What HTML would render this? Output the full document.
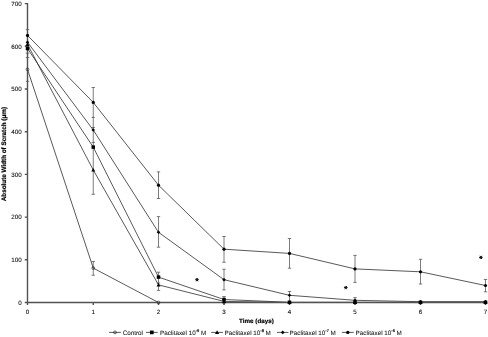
<!DOCTYPE html>
<html><head><meta charset="utf-8"><style>
html,body{margin:0;padding:0;background:#fff;width:488px;height:337px;overflow:hidden}
svg{display:block;will-change:transform}
text{text-rendering:geometricPrecision}
</style></head><body>
<svg width="488" height="337" viewBox="0 0 488 337">
<path d="M27.50 29.60V57.50M27.50 57.50V81.30M93.25 87.50V194.30M93.25 261.50V275.20M158.50 171.90V198.50M158.50 216.60V247.20M158.50 272.20V290.40M224.00 236.50V262.30M224.00 269.20V289.90M224.00 296.50V302.00M289.50 238.50V268.20M289.50 291.50V302.00M355.00 255.40V282.40M355.00 297.60V302.00M420.50 259.30V284.00M485.50 279.50V291.80M25.80 29.60h3.4M25.80 46.10h3.4M25.80 53.20h3.4M25.80 57.50h3.4M25.80 81.30h3.4M91.55 87.50h3.4M91.55 117.40h3.4M91.55 127.50h3.4M91.55 142.40h3.4M91.55 194.30h3.4M91.55 261.50h3.4M91.55 275.20h3.4M156.80 171.90h3.4M156.80 198.50h3.4M156.80 216.60h3.4M156.80 247.20h3.4M156.80 272.20h3.4M156.80 283.00h3.4M156.80 290.40h3.4M222.30 236.50h3.4M222.30 262.30h3.4M222.30 269.20h3.4M222.30 289.90h3.4M222.30 296.50h3.4M287.80 238.50h3.4M287.80 268.20h3.4M287.80 291.50h3.4M353.30 255.40h3.4M353.30 282.40h3.4M353.30 297.60h3.4M418.80 259.30h3.4M418.80 284.00h3.4M483.80 279.50h3.4M483.80 291.80h3.4" stroke="#4a4a4a" stroke-width="0.72" fill="none"/>
<polyline points="27.50,69.40 93.25,268.10 158.50,302.50 224.00,302.50 289.50,302.50 355.00,302.50 420.50,302.50 485.50,302.50" stroke="#222" stroke-width="0.75" fill="none" stroke-linejoin="round"/>
<polyline points="27.50,48.50 93.25,147.10 158.50,277.10 224.00,299.50 289.50,302.30 355.00,302.30 420.50,302.30 485.50,302.30" stroke="#222" stroke-width="0.75" fill="none" stroke-linejoin="round"/>
<polyline points="27.50,44.30 93.25,170.00 158.50,284.90 224.00,301.40 289.50,302.50 355.00,302.50 420.50,302.50 485.50,302.50" stroke="#222" stroke-width="0.75" fill="none" stroke-linejoin="round"/>
<polyline points="27.50,42.20 93.25,130.00 158.50,232.30 224.00,279.70 289.50,295.30 355.00,300.30 420.50,301.70 485.50,301.70" stroke="#222" stroke-width="0.75" fill="none" stroke-linejoin="round"/>
<polyline points="27.50,35.40 93.25,102.40 158.50,185.20 224.00,249.20 289.50,253.40 355.00,268.90 420.50,271.80 485.50,285.50" stroke="#222" stroke-width="0.75" fill="none" stroke-linejoin="round"/>
<path d="M27.50 3.10V302.50H486.20M24.80 302.50H27.5M24.80 259.80H27.5M24.80 217.10H27.5M24.80 174.40H27.5M24.80 131.70H27.5M24.80 89.00H27.5M24.80 46.30H27.5M24.80 3.60H27.5M27.50 302.5v2.5M93.25 302.5v2.5M158.50 302.5v2.5M224.00 302.5v2.5M289.50 302.5v2.5M355.00 302.5v2.5M420.50 302.5v2.5M485.50 302.5v2.5" stroke="#525252" stroke-width="1.4" fill="none"/>
<circle cx="27.50" cy="69.40" r="1.40" fill="none" stroke="#222" stroke-width="0.65"/>
<circle cx="93.25" cy="268.10" r="1.40" fill="none" stroke="#222" stroke-width="0.65"/>
<circle cx="158.50" cy="302.50" r="1.40" fill="none" stroke="#222" stroke-width="0.65"/>
<circle cx="224.00" cy="302.50" r="1.40" fill="none" stroke="#222" stroke-width="0.65"/>
<circle cx="289.50" cy="302.50" r="1.40" fill="none" stroke="#222" stroke-width="0.65"/>
<circle cx="355.00" cy="302.50" r="1.40" fill="none" stroke="#222" stroke-width="0.65"/>
<circle cx="420.50" cy="302.50" r="1.40" fill="none" stroke="#222" stroke-width="0.65"/>
<circle cx="485.50" cy="302.50" r="1.40" fill="none" stroke="#222" stroke-width="0.65"/>
<rect x="25.75" y="46.75" width="3.50" height="3.50" fill="#000"/>
<rect x="91.50" y="145.35" width="3.50" height="3.50" fill="#000"/>
<rect x="156.75" y="275.35" width="3.50" height="3.50" fill="#000"/>
<rect x="222.25" y="297.75" width="3.50" height="3.50" fill="#000"/>
<rect x="287.75" y="300.55" width="3.50" height="3.50" fill="#000"/>
<rect x="353.25" y="300.55" width="3.50" height="3.50" fill="#000"/>
<rect x="418.75" y="300.55" width="3.50" height="3.50" fill="#000"/>
<rect x="483.75" y="300.55" width="3.50" height="3.50" fill="#000"/>
<path d="M27.50 42.30L29.50 45.90H25.50Z" fill="#000"/>
<path d="M93.25 168.00L95.25 171.60H91.25Z" fill="#000"/>
<path d="M158.50 282.90L160.50 286.50H156.50Z" fill="#000"/>
<path d="M224.00 299.40L226.00 303.00H222.00Z" fill="#000"/>
<path d="M289.50 300.50L291.50 304.10H287.50Z" fill="#000"/>
<path d="M355.00 300.50L357.00 304.10H353.00Z" fill="#000"/>
<path d="M420.50 300.50L422.50 304.10H418.50Z" fill="#000"/>
<path d="M485.50 300.50L487.50 304.10H483.50Z" fill="#000"/>
<path d="M27.50 40.40L29.30 42.20L27.50 44.00L25.70 42.20Z" fill="#000"/>
<path d="M93.25 128.20L95.05 130.00L93.25 131.80L91.45 130.00Z" fill="#000"/>
<path d="M158.50 230.50L160.30 232.30L158.50 234.10L156.70 232.30Z" fill="#000"/>
<path d="M224.00 277.90L225.80 279.70L224.00 281.50L222.20 279.70Z" fill="#000"/>
<path d="M289.50 293.50L291.30 295.30L289.50 297.10L287.70 295.30Z" fill="#000"/>
<path d="M355.00 298.50L356.80 300.30L355.00 302.10L353.20 300.30Z" fill="#000"/>
<path d="M420.50 299.90L422.30 301.70L420.50 303.50L418.70 301.70Z" fill="#000"/>
<path d="M485.50 299.90L487.30 301.70L485.50 303.50L483.70 301.70Z" fill="#000"/>
<circle cx="27.50" cy="35.40" r="1.60" fill="#000"/>
<circle cx="93.25" cy="102.40" r="1.60" fill="#000"/>
<circle cx="158.50" cy="185.20" r="1.60" fill="#000"/>
<circle cx="224.00" cy="249.20" r="1.60" fill="#000"/>
<circle cx="289.50" cy="253.40" r="1.60" fill="#000"/>
<circle cx="355.00" cy="268.90" r="1.60" fill="#000"/>
<circle cx="420.50" cy="271.80" r="1.60" fill="#000"/>
<circle cx="485.50" cy="285.50" r="1.60" fill="#000"/>
<g font-family="Liberation Sans, sans-serif" font-size="6.4" fill="#111" stroke="#111" stroke-width="0.1"><text x="21.8" y="304.85" text-anchor="end" font-size="6.25">0</text><text x="21.8" y="262.15" text-anchor="end" font-size="6.25">100</text><text x="21.8" y="219.45" text-anchor="end" font-size="6.25">200</text><text x="21.8" y="176.75" text-anchor="end" font-size="6.25">300</text><text x="21.8" y="134.05" text-anchor="end" font-size="6.25">400</text><text x="21.8" y="91.35" text-anchor="end" font-size="6.25">500</text><text x="21.8" y="48.65" text-anchor="end" font-size="6.25">600</text><text x="21.8" y="5.95" text-anchor="end" font-size="6.25">700</text><text x="27.50" y="314.2" text-anchor="middle" font-size="6.2">0</text><text x="93.25" y="314.2" text-anchor="middle" font-size="6.2">1</text><text x="158.50" y="314.2" text-anchor="middle" font-size="6.2">2</text><text x="224.00" y="314.2" text-anchor="middle" font-size="6.2">3</text><text x="289.50" y="314.2" text-anchor="middle" font-size="6.2">4</text><text x="355.00" y="314.2" text-anchor="middle" font-size="6.2">5</text><text x="420.50" y="314.2" text-anchor="middle" font-size="6.2">6</text><text x="485.50" y="314.2" text-anchor="middle" font-size="6.2">7</text></g>
<path d="M195.55 279.70L198.45 279.70M196.28 278.44L197.72 280.96M197.72 278.44L196.28 280.96M344.35 287.60L347.25 287.60M345.07 286.34L346.53 288.86M346.53 286.34L345.07 288.86M479.45 257.40L482.35 257.40M480.17 256.14L481.62 258.66M481.62 256.14L480.17 258.66" stroke="#111" stroke-width="1.0" stroke-linecap="round"/>
<text x="239.0" y="322.6" textLength="34.8" lengthAdjust="spacingAndGlyphs" font-family="Liberation Sans, sans-serif" font-weight="bold" font-size="6.2" fill="#000" stroke="#000" stroke-width="0.18">Time (days)</text>
<text transform="translate(6.3 201.2) rotate(-90)" textLength="94.2" lengthAdjust="spacingAndGlyphs" font-family="Liberation Sans, sans-serif" font-weight="bold" font-size="6.5" fill="#000" stroke="#000" stroke-width="0.22">Absolute Width of Scratch (μm)</text>
<path d="M109.1 332.4H120.9" stroke="#222" stroke-width="0.75"/>
<circle cx="115.00" cy="332.40" r="1.47" fill="none" stroke="#222" stroke-width="0.65"/>
<text x="122.7" y="334.9" font-family="Liberation Sans, sans-serif" font-size="6.3" fill="#111" stroke="#111" stroke-width="0.05">Control</text>
<path d="M145.9 332.4H157.7" stroke="#222" stroke-width="0.75"/>
<rect x="149.96" y="330.56" width="3.68" height="3.68" fill="#000"/>
<text x="160.0" y="334.9" font-family="Liberation Sans, sans-serif" font-size="6.3" fill="#111" stroke="#111" stroke-width="0.05">Paclitaxel 10<tspan dy="-3.1" font-size="4.0" stroke-width="0.2">-9</tspan><tspan dy="3.1"> M</tspan></text>
<path d="M211.2 332.4H223.0" stroke="#222" stroke-width="0.75"/>
<path d="M217.10 330.30L219.20 334.08H215.00Z" fill="#000"/>
<text x="224.6" y="334.9" font-family="Liberation Sans, sans-serif" font-size="6.3" fill="#111" stroke="#111" stroke-width="0.05">Paclitaxel 10<tspan dy="-3.1" font-size="4.0" stroke-width="0.2">-8</tspan><tspan dy="3.1"> M</tspan></text>
<path d="M276.9 332.4H288.5" stroke="#222" stroke-width="0.75"/>
<path d="M282.70 330.51L284.59 332.40L282.70 334.29L280.81 332.40Z" fill="#000"/>
<text x="289.6" y="334.9" font-family="Liberation Sans, sans-serif" font-size="6.3" fill="#111" stroke="#111" stroke-width="0.05">Paclitaxel 10<tspan dy="-3.1" font-size="4.0" stroke-width="0.2">-7</tspan><tspan dy="3.1"> M</tspan></text>
<path d="M341.9 332.4H353.7" stroke="#222" stroke-width="0.75"/>
<circle cx="347.80" cy="332.40" r="1.68" fill="#000"/>
<text x="355.6" y="334.9" font-family="Liberation Sans, sans-serif" font-size="6.3" fill="#111" stroke="#111" stroke-width="0.05">Paclitaxel 10<tspan dy="-3.1" font-size="4.0" stroke-width="0.2">-6</tspan><tspan dy="3.1"> M</tspan></text>
</svg>
</body></html>
